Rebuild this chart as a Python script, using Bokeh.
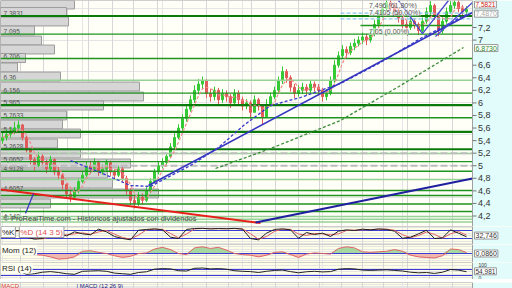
import numpy as np
import pandas as pd
from bokeh.plotting import figure
from bokeh.layouts import column
from bokeh.models import Range1d, FixedTicker, Grid, Label
from bokeh.core.properties import value
from bokeh.embed import file_html
from bokeh.resources import INLINE

FONT = "Liberation Sans"

# ---------------- data ----------------
first_open = 5.40
closes = [5.45, 5.50, 5.55, 5.60, 5.65, 5.45, 5.25, 5.10, 5.00, 5.15,
          5.05, 4.95, 5.10, 4.90, 4.85, 4.70, 4.55, 4.50, 4.60, 4.75,
          4.85, 5.00, 4.95, 5.05, 4.90, 4.95, 5.05, 4.90, 4.85, 4.95,
          4.80, 4.60, 4.45, 4.40, 4.50, 4.45, 4.60, 4.75, 4.90, 5.00,
          5.05, 5.15, 5.30, 5.45, 5.60, 5.75, 5.90, 6.05, 6.20, 6.30,
          6.35, 6.15, 6.10, 6.20, 6.05, 6.15, 6.10, 6.00, 6.15, 6.05,
          5.95, 6.00, 5.85, 6.05, 5.95, 5.78, 5.95, 6.10, 6.20, 6.35,
          6.50, 6.40, 6.25, 6.15, 6.20, 6.25, 6.20, 6.30, 6.25, 6.20,
          6.10, 6.15, 6.35, 6.60, 6.75, 6.85, 6.80, 6.90, 6.95, 7.00,
          7.05, 7.00, 7.10, 7.25, 7.40, 7.50, 7.60, 7.55, 7.45, 7.35,
          7.25, 7.20, 7.30, 7.25, 7.15, 7.30, 7.45, 7.55, 7.40, 7.15,
          7.30, 7.45, 7.55, 7.60, 7.50, 7.45, 7.49]
highs = [5.55, 5.58, 5.62, 5.70, 5.72, 5.66, 5.48, 5.28, 5.14, 5.22,
         5.20, 5.10, 5.16, 5.12, 4.98, 4.88, 4.72, 4.62, 4.66, 4.80,
         4.92, 5.06, 5.08, 5.12, 5.08, 5.02, 5.10, 5.08, 4.95, 5.00,
         4.98, 4.84, 4.64, 4.52, 4.58, 4.56, 4.66, 4.80, 4.95, 5.06,
         5.12, 5.20, 5.36, 5.52, 5.66, 5.82, 5.98, 6.12, 6.28, 6.38,
         6.42, 6.38, 6.22, 6.26, 6.24, 6.22, 6.20, 6.14, 6.22, 6.20,
         6.10, 6.06, 6.04, 6.12, 6.08, 5.96, 6.06, 6.16, 6.26, 6.42,
         6.58, 6.54, 6.44, 6.30, 6.28, 6.32, 6.30, 6.36, 6.34, 6.30,
         6.24, 6.22, 6.42, 6.68, 6.82, 6.92, 6.90, 6.96, 7.02, 7.06,
         7.12, 7.10, 7.16, 7.32, 7.48, 7.58, 7.66, 7.66, 7.60, 7.50,
         7.40, 7.30, 7.36, 7.34, 7.28, 7.36, 7.52, 7.62, 7.58, 7.42,
         7.36, 7.52, 7.62, 7.66, 7.64, 7.56, 7.54]
lows = [5.35, 5.40, 5.45, 5.50, 5.52, 5.40, 5.18, 5.02, 4.92, 4.98,
        4.98, 4.88, 4.92, 4.85, 4.78, 4.62, 4.48, 4.42, 4.46, 4.56,
        4.72, 4.82, 4.88, 4.92, 4.84, 4.86, 4.92, 4.84, 4.78, 4.82,
        4.74, 4.54, 4.38, 4.32, 4.36, 4.38, 4.42, 4.56, 4.72, 4.86,
        4.96, 5.00, 5.12, 5.26, 5.42, 5.56, 5.70, 5.86, 6.00, 6.14,
        6.22, 6.08, 6.02, 6.04, 5.98, 6.00, 6.02, 5.92, 5.96, 5.98,
        5.88, 5.90, 5.75, 5.86, 5.88, 5.66, 5.80, 5.96, 6.06, 6.16,
        6.30, 6.32, 6.18, 6.08, 6.10, 6.14, 6.12, 6.16, 6.18, 6.12,
        6.02, 6.04, 6.12, 6.32, 6.56, 6.70, 6.72, 6.76, 6.84, 6.90,
        6.94, 6.92, 6.96, 7.06, 7.20, 7.36, 7.46, 7.46, 7.38, 7.28,
        7.18, 7.12, 7.16, 7.18, 7.08, 7.12, 7.26, 7.40, 7.32, 7.06,
        7.10, 7.26, 7.42, 7.50, 7.44, 7.38, 7.40]

# moving-average traces (bar index, price)
ma_blue_x = [17, 24.5, 32, 37, 40.75, 47, 54, 60.25, 67, 74.5, 84.5, 94.5, 104.5, 116]
ma_blue_y = [5.083, 4.892, 4.685, 4.670, 4.797, 5.004, 5.290, 5.640, 5.959, 6.086, 6.309, 6.643, 7.025, 7.407]
ma_green_x = [53.25, 67, 84.5, 99.5, 115.25]
ma_green_y = [4.956, 5.274, 5.720, 6.277, 6.882]

# trend lines (bar index, price)
red_line_x, red_line_y = [-0.5, 64.5], [4.622, 4.089]
navy_line_x, navy_line_y = [63.25, 117.5], [4.097, 4.797]
trend_x, trend_y = [36.5, 117.5], [4.685, 7.439]
v_line_x, v_line_y = [99, 105, 111.5], [7.63, 7.104, 7.63]
steep_x, steep_y = [108.25, 117.5], [7.057, 7.598]
small_x, small_y = [5.75, 7.75], [4.240, 4.558]

# horizontal support / resistance levels
thick_levels = [7.3831, 5.965, 5.54, 5.2628]
mid_levels = [7.095, 6.706, 6.156, 5.7633, 5.0652, 4.9128, 4.6057, 4.526, 4.391, 4.272]
light_levels = [6.36, 5.195, 4.781, 4.192, 4.148, 4.105]
partial_level, partial_start = 7.232, 89.5
grey_levels = [5.2, 5.0]
blue_dash_levels = [7.428, 7.339]

# volume at price
vp_price = [7.566, 7.447, 7.296, 7.152, 6.993, 6.850, 6.715, 6.564, 6.420, 6.261, 6.102,
            5.959, 5.800, 5.656, 5.513, 5.354, 5.195, 5.036, 4.876, 4.717, 4.558, 4.399]
vp_volume = [74, 66, 68, 34, 41, 54, 25, 17, 60, 139, 143, 103, 66, 62, 80, 57, 80, 130, 107, 112, 158, 50]
vp_label_values = [7.3831, 7.095, 6.706, 6.36, 6.156, 5.965, 5.7633, 5.54, 5.2628, 5.0652, 4.9128, 4.6057, 4.148]
vp_labels = ["7,3831", "7,095", "6,706", "6,36", "6,156", "5,965", "5,7633", "5,54", "5,2628",
             "5,0652", "4,9128", "4,6057", "4,148"]

fib_labels = ["7,496 (61,80%)", "7,4105 (50,00%)", "7,05 (0,00%)"]

month_marks = [4.5, 10.25, 16.25, 21.5, 27.5, 32.75, 38.75, 45, 51, 56.5, 62.25, 68.25,
               74, 79.25, 84.75, 90, 95.25, 101.25, 106.75, 112.5]
y_ticks = [4.2, 4.4, 4.6, 4.8, 5.0, 5.2, 5.4, 5.6, 5.8, 6.0, 6.2, 6.4, 6.6, 7.0, 7.2]
y_tick_labels = [f"{t:g}".replace(".", ",") for t in y_ticks]

ind_x = list(range(0, 117, 2))
stoch_k = [60, 75, 80, 30, 15, 20, 45, 55, 40, 70, 55, 48, 90, 70, 35, 20, 10, 82, 88, 92,
           85, 30, 20, 88, 95, 96, 92, 95, 93, 96, 90, 20, 10, 60, 88, 92, 85, 22, 65, 50,
           60, 35, 75, 85, 80, 90, 85, 92, 88, 75, 22, 30, 55, 82, 20, 25, 85, 60, 32.7]
mom = [0.0, 0.05, 0.1, -0.05, -0.1, -0.15, -0.3, -0.5, -0.45, -0.3,
       0.2, 0.25, 0.1, 0.0, -0.2, -0.35, -0.25, 0.0, 0.05, 0.4,
       0.55, 0.35, 0.0, -0.1, 0.5, 0.6, 0.45, 0.55, 0.3, 0.0,
       -0.1, -0.15, -0.3, -0.15, 0.1, 0.15, -0.1, -0.35, -0.05, 0.05,
       0.0, -0.05, 0.45, 0.6, 0.5, 0.15, 0.1, 0.15, 0.2, 0.35,
       0.2, -0.15, -0.3, -0.35, -0.4, -0.2, 0.4, 0.35, 0.086]
rsi = [58, 62, 60, 38, 42, 52, 56, 50, 42, 38, 58, 60, 62, 58, 46, 42, 38, 50, 55, 72,
       76, 74, 62, 60, 78, 80, 74, 76, 72, 62, 58, 56, 50, 58, 64, 66, 56, 48, 55, 58,
       54, 56, 72, 76, 74, 66, 64, 66, 68, 64, 60, 52, 48, 50, 44, 52, 70, 66, 55]

# ---------------- layout helpers ----------------
X0, X1, XE = -0.5, 117.5, 127.5      # data area ends at X1, right scale strip up to XE
STRIP = "#e2fbfb"
GRID = "#d6d6d6"


def base_fig(height, y0, y1, bg):
    f = figure(width=512, height=height, output_backend="svg", toolbar_location=None,
               x_range=Range1d(X0, XE), y_range=Range1d(y0, y1),
               x_axis_location=None, y_axis_location=None,
               min_border_left=0, min_border_right=0, min_border_top=0, min_border_bottom=0)
    f.background_fill_color = bg
    f.border_fill_color = STRIP
    f.outline_line_color = None
    f.add_layout(Grid(dimension=0, ticker=FixedTicker(ticks=month_marks),
                      grid_line_color=GRID, grid_line_width=1))
    return f


def finish(f, y0, y1):
    f.quad(left=X1, right=XE, bottom=y0, top=y1, fill_color=STRIP, line_color=None)
    f.quad(left=X0, right=X1, bottom=y0, top=y1, fill_color=None, line_color="#a0a0a0", line_width=1)


def hline(f, lv, color, width=1.2, dash="solid", start=X0):
    f.segment(x0=start, y0=lv, x1=X1, y1=lv, line_color=color, line_width=width, line_dash=dash)


def box_label(f, x, y, text, color, size="7px", baseline="middle", bg="white", border="#999999"):
    f.add_layout(Label(x=x, y=y, text=text, text_color=color, text_font=FONT,
                       text_font_size=size, text_baseline=baseline,
                       background_fill_color=bg, border_line_color=border, padding=1))


# ---------------- main price panel ----------------
MY0, MY1 = 4.033, 7.63
main = base_fig(226, MY0, MY1, "#fffff7")

# volume-at-price bars
vp_right = [X0 + v * 0.25 for v in vp_volume]
main.hbar(y=vp_price, left=X0, right=vp_right, height=0.142,
          fill_color="#d6d6d6", line_color="#9c9c9c", line_width=1)
main.text(x=[0.25] * len(vp_labels), y=vp_label_values, text=vp_labels,
          text_font=value(FONT), text_font_size="6.5px", text_baseline="bottom",
          text_color="#505050")

# candles
opens = [first_open] + closes[:-1]
idx = list(range(len(closes)))
colors = ["#36c936" if c >= o else "#e05a5a" for o, c in zip(opens, closes)]
tops = [max(o, c) for o, c in zip(opens, closes)]
bots = [min(o, c) for o, c in zip(opens, closes)]
main.segment(x0=idx, y0=lows, x1=idx, y1=highs, line_color=colors, line_width=1)
main.vbar(x=idx, width=0.5, top=tops, bottom=bots, fill_color=colors, line_color=colors)

# horizontal levels
for lv in light_levels:
    hline(main, lv, "#96d296", 1.6)
for lv in grey_levels:
    hline(main, lv, "#bdbdbd", 2, "7 3")
for lv in mid_levels:
    hline(main, lv, "#1f951f", 1.4)
for lv in thick_levels:
    hline(main, lv, "#0b7a0b", 2.2)
hline(main, partial_level, "#1f951f", 1.4, start=partial_start)
for lv in blue_dash_levels:
    hline(main, lv, "#8cc6f2", 1.2, "4 2", start=84.5)

# moving averages
ma_pink = pd.Series(closes).rolling(4, min_periods=1).mean()
main.line(idx, ma_pink, line_color="#f08a8a", line_width=1.2, line_dash="3 2")
main.line(ma_blue_x, ma_blue_y, line_color="#3a3ad0", line_width=1.3, line_dash="3 2")
main.line(ma_green_x, ma_green_y, line_color="#3c8c3c", line_width=1.3, line_dash="3 2")

# trend lines
main.line(red_line_x, red_line_y, line_color="#e8201c", line_width=2)
main.line(navy_line_x, navy_line_y, line_color="#1f1fa0", line_width=2.2)
main.line(trend_x, trend_y, line_color="#3434c0", line_width=1.6)
main.line(v_line_x, v_line_y, line_color="#4a4ad0", line_width=1.3)
main.line(steep_x, steep_y, line_color="#4a4ad0", line_width=1.3)
main.line(small_x, small_y, line_color="#3434c0", line_width=1.2)

# fibonacci texts (stacked above their levels)
for ty, ft in zip([7.552, 7.436, 7.138], fib_labels):
    main.add_layout(Label(x=91.6, y=ty, text=ft, text_color="#555555", text_font=FONT,
                          text_font_size="7px", text_baseline="middle",
                          background_fill_color="white", background_fill_alpha=0.55))

main.add_layout(Label(x=0.2, y=4.155, text="© ProRealTime.com - Históricos ajustados con dividendos",
                      text_color="#444444", text_font=FONT, text_font_size="7.5px",
                      text_baseline="middle"))

finish(main, MY0, MY1)
# right price scale
main.segment(x0=[X1] * len(y_ticks), y0=y_ticks, x1=[X1 + 1] * len(y_ticks), y1=y_ticks,
             line_color="#777777", line_width=1)
main.text(x=[X1 + 1.4] * len(y_ticks), y=y_ticks, text=y_tick_labels, text_font=value(FONT),
          text_font_size="9px", text_baseline="middle", text_color="#333333")

box_label(main, X1 + 0.5, 7.566, "7,5821", "#d02020", size="6.5px")
box_label(main, X1 + 0.5, 7.42, "7,4870", "#aaaaaa")
box_label(main, X1 + 0.5, 6.873, "6,8730", "#2a8a2a")

# ---------------- stochastic ----------------
SY0, SY1 = -25, 110
st = base_fig(18, SY0, SY1, "#ffffe8")
for lv in [80, 20]:
    hline(st, lv, "#3b3bd6", 1.2)
stoch_d = pd.Series(stoch_k).rolling(2, min_periods=1).mean()
st.line(ind_x, stoch_d, line_color="#e06060", line_width=1)
st.line(ind_x, stoch_k, line_color="#202020", line_width=1)
finish(st, SY0, SY1)
box_label(st, -0.4, SY1, "%K", "#222222", size="8px", baseline="top")
box_label(st, 4.2, SY1, "%D (14 3 5)", "#e05050", size="8px", baseline="top")
box_label(st, X1 + 0.5, 42, "32,746", "#333333")

# ---------------- momentum ----------------
MoY0, MoY1 = -0.8, 0.8
mo = base_fig(18, MoY0, MoY1, "#ffffe8")
mom_pos = np.maximum(np.array(mom), 0)
mom_neg = np.minimum(np.array(mom), 0)
mo.varea(x=ind_x, y1=0, y2=mom_pos, fill_color="#9fd49a", fill_alpha=0.9)
mo.varea(x=ind_x, y1=0, y2=mom_neg, fill_color="#eeb0a8", fill_alpha=0.9)
hline(mo, 0, "#3b3bd6", 1.2)
mo.line(ind_x, mom, line_color="#e06464", line_width=1)
finish(mo, MoY0, MoY1)
box_label(mo, -0.4, MoY1, "Mom (12)", "#222222", size="8px", baseline="top", bg="#fffff2", border=None)
box_label(mo, X1 + 0.5, 0.0, "0,0860", "#333333")

# ---------------- RSI ----------------
RY0, RY1 = 3.4, 116.7
rs = base_fig(17, RY0, RY1, "#ffffe8")
for lv in [70, 30]:
    hline(rs, lv, "#3b3bd6", 1.2)
rs.line(ind_x, rsi, line_color="#202020", line_width=1)
finish(rs, RY0, RY1)
box_label(rs, -0.4, RY1, "RSI (14)", "#222222", size="8px", baseline="top", bg="#fffff2", border=None)
box_label(rs, X1 + 0.5, 58, "54,981", "#333333", size="6.5px")
rs.text(x=[X1 + 1.5, X1 + 1.5], y=[RY1, RY0], text=["100", "0"], text_font=value(FONT),
        text_font_size="5px", text_baseline=["top", "bottom"], text_color="#333333")

# ---------------- MACD (top edge only) ----------------
mc = base_fig(9, 0, 1, "#ffffe8")
finish(mc, 0, 1)
mc.add_layout(Label(x=-0.3, y=1, text="MACD", text_color="#e04040", text_font=FONT,
                    text_font_size="6px", text_baseline="top"))
mc.add_layout(Label(x=18.5, y=1, text="| MACD (12 26 9)", text_color="#202080", text_font=FONT,
                    text_font_size="6px", text_baseline="top"))

layout = column(main, st, mo, rs, mc, spacing=0)
open("out.html", "w").write(file_html(layout, INLINE))
